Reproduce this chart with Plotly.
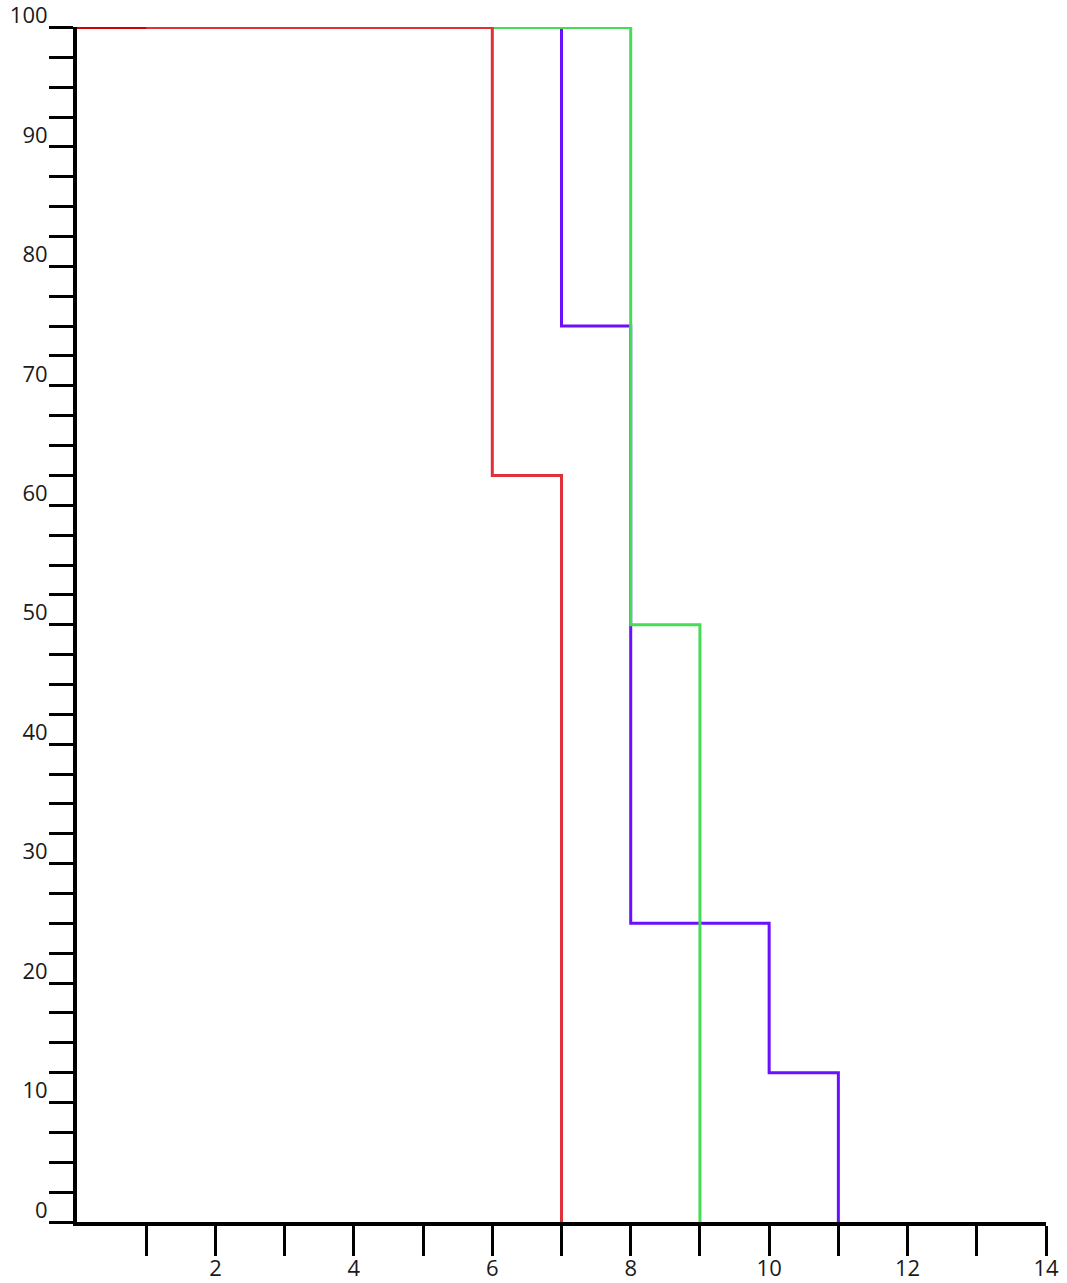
import plotly.graph_objects as go

# Step curves (value held until the next x, then drops)
red_x = [0, 6, 7, 7]
red_y = [100, 62.5, 0, 0]
green_x = [0, 8, 9, 9]
green_y = [100, 50, 0, 0]
purple_x = [0, 7, 8, 10, 11, 11]
purple_y = [100, 75, 25, 12.5, 0, 0]
red_start_x = [0, 1]
red_start_y = [100, 100]

x_tick_labels = [2, 4, 6, 8, 10, 12, 14]
x_minor_ticks = list(range(1, 15))
y_tick_labels = [0, 10, 20, 30, 40, 50, 60, 70, 80, 90, 100]

fig = go.Figure()
fig.add_trace(go.Scatter(x=purple_x, y=purple_y, mode="lines", line_shape="hv",
                         line=dict(color="#6a10ff", width=3), cliponaxis=False))
fig.add_trace(go.Scatter(x=green_x, y=green_y, mode="lines", line_shape="hv",
                         line=dict(color="#44dd55", width=3), cliponaxis=False))
fig.add_trace(go.Scatter(x=red_x, y=red_y, mode="lines", line_shape="hv",
                         line=dict(color="#e0313a", width=3), cliponaxis=False))
fig.add_trace(go.Scatter(x=red_start_x, y=red_start_y, mode="lines",
                         line=dict(color="#d40000", width=3), cliponaxis=False))

tick_font = dict(family="Open Sans, Noto Sans, sans-serif", size=22, color="#1a1a1a")

fig.update_layout(
    width=1067, height=1283,
    margin=dict(l=77, r=21, t=27, b=61),
    paper_bgcolor="white", plot_bgcolor="white",
    showlegend=False,
    xaxis=dict(
        range=[0, 14], showgrid=False, zeroline=False, automargin=False,
        showline=True, linecolor="black", linewidth=4,
        tickmode="array", tickvals=x_tick_labels,
        ticks="outside", ticklen=30, tickwidth=3, tickcolor="black",
        tickfont=tick_font, ticklabelstandoff=-6, ticklabeloverflow="allow",
        minor=dict(tickmode="array", tickvals=x_minor_ticks, ticks="outside",
                   ticklen=30, tickwidth=3, tickcolor="black", showgrid=False),
    ),
    yaxis=dict(
        # tiny headroom keeps the 100-level line on whole pixels
        range=[0, 100.04], showgrid=False, zeroline=False, automargin=False,
        showline=True, linecolor="black", linewidth=4,
        tickmode="array", tickvals=y_tick_labels,
        ticks="outside", ticklen=24, tickwidth=3, tickcolor="black",
        ticklabelshift=-12, ticklabelstandoff=-3, ticklabeloverflow="allow",
        tickfont=tick_font,
        minor=dict(dtick=2.5, tick0=0, ticks="outside",
                   ticklen=24, tickwidth=3, tickcolor="black", showgrid=False),
    ),
)

fig.write_html("out.html")
